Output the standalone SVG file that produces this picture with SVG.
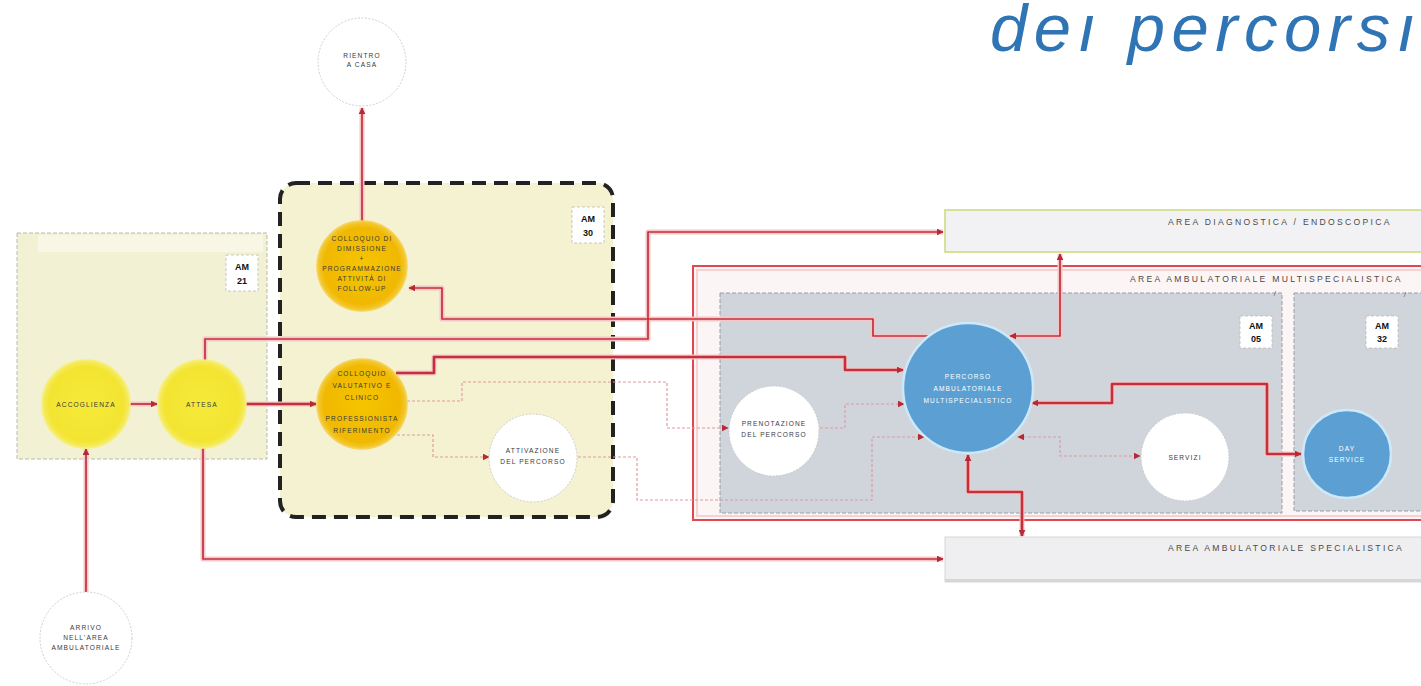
<svg xmlns="http://www.w3.org/2000/svg" xmlns:xlink="http://www.w3.org/1999/xlink" width="1421" height="686" viewBox="0 0 1421 686">
<style>
.lbl{font-family:"Liberation Sans",Arial,sans-serif;font-size:6.6px;letter-spacing:1.1px;fill:#3a3a3a;text-anchor:middle}
.lblw{font-family:"Liberation Sans",Arial,sans-serif;font-size:6.6px;letter-spacing:1.1px;fill:#ffffff;text-anchor:middle}
.area{font-family:"Liberation Sans",Arial,sans-serif;font-size:8.6px;letter-spacing:2.3px;fill:#4a4a4a}
.tag{font-family:"Liberation Sans",Arial,sans-serif;font-size:9px;font-weight:bold;fill:#111;text-anchor:middle}
.tagbox{fill:#ffffff;stroke:#bbbbbb;stroke-width:0.8;stroke-dasharray:3 2}
.cw{fill:#ffffff;stroke:#cfcfcf;stroke-width:1;stroke-dasharray:2 1.5}
.cy{fill:url(#gy);stroke:#f7ef7a;stroke-width:1.5}
.co{fill:url(#go);stroke:#f5d25a;stroke-width:1.5}
.cb{fill:#5b9fd3;stroke:#cde8f8;stroke-width:2.5}
.halo{fill:none;stroke:#f4c6c8;stroke-width:5;stroke-linejoin:round}
.r{fill:none;stroke:#c3303b;stroke-width:1.7;stroke-linejoin:round}
.rb{fill:none;stroke:#c3303b;stroke-width:2.6;stroke-linejoin:round}
.t{fill:none;stroke:#e09a9e;stroke-width:1.2;stroke-dasharray:3 2}
</style>
<defs>
<radialGradient id="gy" cx="50%" cy="50%" r="50%"><stop offset="0" stop-color="#f6ea3a"/><stop offset="0.85" stop-color="#f3e431"/><stop offset="1" stop-color="#f5ec6a"/></radialGradient>
<radialGradient id="go" cx="50%" cy="50%" r="50%"><stop offset="0" stop-color="#f6c500"/><stop offset="0.85" stop-color="#f0b800"/><stop offset="1" stop-color="#f4cc3a"/></radialGradient>
<marker id="ah" viewBox="0 0 10 10" refX="9" refY="5" markerWidth="7" markerHeight="7" markerUnits="userSpaceOnUse" orient="auto-start-reverse"><path d="M0,0 L10,5 L0,10 z" fill="#b52a35"/></marker>
</defs>

<rect width="1421" height="686" fill="#ffffff"/>

<text x="990" y="51" font-family="'Liberation Sans',Arial,sans-serif" font-style="italic" font-size="67" letter-spacing="6.5" fill="#2f74b5">deı percorsı</text>

<!-- areas -->
<g id="area-am21">
<rect x="17" y="233" width="250" height="226" fill="#f3f1d3" stroke="#b9b9b0" stroke-width="1" stroke-dasharray="4 2"/>
<rect x="38" y="235" width="225" height="17" fill="#f8f7e6"/>
<rect class="tagbox" x="226" y="255" width="32" height="36"/>
<text class="tag" x="242" y="270">AM</text><text class="tag" x="242" y="284">21</text>
</g>
<g id="area-multi">
<rect x="693" y="266" width="740" height="254" fill="#fcf5f5" stroke="#e0474f" stroke-width="2"/>
<rect x="697" y="270" width="740" height="246" fill="none" stroke="#f6d2d4" stroke-width="2"/>
<text class="area" x="1130" y="282">AREA AMBULATORIALE MULTISPECIALISTICA</text>
</g>
<g id="area-am05">
<rect x="720" y="293" width="562" height="220" fill="#d0d4db" stroke="#9a9ea4" stroke-width="1" stroke-dasharray="4 2"/>
<path d="M1274,296 l2,-5" stroke="#777" stroke-width="0.8"/>
<rect class="tagbox" x="1240" y="316" width="32" height="32"/>
<text class="tag" x="1256" y="329">AM</text><text class="tag" x="1256" y="342">05</text>
</g>
<g id="area-am32">
<rect x="1294" y="293" width="140" height="218" fill="#d0d4db" stroke="#9a9ea4" stroke-width="1" stroke-dasharray="4 2"/>
<path d="M1404,297 l2,-5" stroke="#777" stroke-width="0.8"/>
<rect class="tagbox" x="1366" y="316" width="32" height="32"/>
<text class="tag" x="1382" y="329">AM</text><text class="tag" x="1382" y="342">32</text>
</g>
<g id="area-diagnostica">
<rect x="945" y="210" width="490" height="42" fill="#f2f2f4" stroke="#cbd977" stroke-width="1.5"/>
<text class="area" x="1168" y="225">AREA DIAGNOSTICA / ENDOSCOPICA</text>
</g>
<g id="area-specialistica">
<rect x="945" y="537" width="490" height="45" fill="#efeff1" stroke="#d5d5d8" stroke-width="1"/>
<rect x="945" y="579" width="490" height="3" fill="#d6d6d9"/>
<text class="area" x="1168" y="551">AREA AMBULATORIALE SPECIALISTICA</text>
</g>
<g id="area-am30">
<rect x="280" y="183" width="333" height="334" rx="16" fill="#f5f2d1" stroke="#222222" stroke-width="4" stroke-dasharray="14 8"/>
<rect class="tagbox" x="572" y="207" width="32" height="36"/>
<text class="tag" x="588" y="222">AM</text><text class="tag" x="588" y="236">30</text>
</g>

<!-- connectors -->
<g id="connectors">
<g id="halos">
<path class="halo" d="M130,404 H157"/>
<path class="halo" d="M246,404 H316"/>
<path class="halo" d="M86,592 V449"/>
<path class="halo" d="M203,448 V559 H943"/>
<path class="halo" d="M205,360 V339 H648 V232 H943"/>
<path class="halo" d="M362,221 V108"/>
<path class="halo" d="M928,336 H873 V319 H442 V288 H409"/>
<path class="halo" d="M396,373 H434 V357 H845 V370 H903"/>
<path class="halo" d="M1060,254 V336 H1010"/>
<path class="halo" d="M1032,403 H1112 V384 H1267 V454 H1301"/>
<path class="halo" d="M968,455 V492 H1022 V536"/>
</g>
<path class="r" d="M130,404 H157" marker-end="url(#ah)"/>
<path class="rb" d="M246,404 H316" marker-end="url(#ah)"/>
<path class="r" d="M86,592 V449" marker-end="url(#ah)"/>
<path class="r" d="M203,448 V559 H943" marker-end="url(#ah)"/>
<path class="r" d="M205,360 V339 H648 V232 H943" marker-end="url(#ah)"/>
<path class="r" d="M362,221 V108" marker-end="url(#ah)"/>
<path class="r" d="M928,336 H873 V319 H442 V288 H409" marker-end="url(#ah)"/>
<path class="rb" d="M396,373 H434 V357 H845 V370 H903" marker-end="url(#ah)"/>
<path class="r" d="M1060,254 V336 H1010" marker-start="url(#ah)" marker-end="url(#ah)"/>
<path class="rb" d="M1032,403 H1112 V384 H1267 V454 H1301" marker-start="url(#ah)" marker-end="url(#ah)"/>
<path class="rb" d="M968,455 V492 H1022 V536" marker-start="url(#ah)" marker-end="url(#ah)"/>
<path class="t" d="M407,401 H462 V382 H667 V428 H728" marker-end="url(#ah)"/>
<path class="t" d="M397,435 H433 V457 H489" marker-end="url(#ah)"/>
<path class="t" d="M578,457 H637 V500 H872 V437 H924" marker-end="url(#ah)"/>
<path class="t" d="M820,428 H845 V404 H904" marker-end="url(#ah)"/>
<path class="t" d="M1018,437 H1060 V456 H1140" marker-start="url(#ah)" marker-end="url(#ah)"/>
</g>

<!-- nodes -->
<g id="n-rientro"><circle class="cw" cx="362" cy="62" r="44"/>
<text class="lbl" x="362" y="58">RIENTRO</text><text class="lbl" x="362" y="67">A CASA</text></g>

<g id="n-dimissione"><circle class="co" cx="362" cy="266" r="45"/>
<text class="lbl" x="362" y="241">COLLOQUIO DI</text><text class="lbl" x="362" y="251">DIMISSIONE</text><text class="lbl" x="362" y="261">+</text><text class="lbl" x="362" y="271">PROGRAMMAZIONE</text><text class="lbl" x="362" y="281">ATTIVITÀ DI</text><text class="lbl" x="362" y="291">FOLLOW-UP</text></g>

<g id="n-valutativo"><circle class="co" cx="362" cy="404" r="45"/>
<text class="lbl" x="362" y="376">COLLOQUIO</text><text class="lbl" x="362" y="388">VALUTATIVO E</text><text class="lbl" x="362" y="400">CLINICO</text><text class="lbl" x="362" y="421">PROFESSIONISTA</text><text class="lbl" x="362" y="433">RIFERIMENTO</text></g>

<g id="n-attivazione"><circle class="cw" cx="533" cy="458" r="44"/>
<text class="lbl" x="533" y="453">ATTIVAZIONE</text><text class="lbl" x="533" y="464">DEL PERCORSO</text></g>

<g id="n-accoglienza"><circle class="cy" cx="86" cy="404" r="44"/>
<text class="lbl" x="86" y="407">ACCOGLIENZA</text></g>

<g id="n-attesa"><circle class="cy" cx="202" cy="404" r="44"/>
<text class="lbl" x="202" y="407">ATTESA</text></g>

<g id="n-arrivo"><circle class="cw" cx="86" cy="638" r="46"/>
<text class="lbl" x="86" y="630">ARRIVO</text><text class="lbl" x="86" y="640">NELL'AREA</text><text class="lbl" x="86" y="650">AMBULATORIALE</text></g>

<g id="n-prenotazione"><circle class="cw" cx="774" cy="431" r="45"/>
<text class="lbl" x="774" y="426">PRENOTAZIONE</text><text class="lbl" x="774" y="437">DEL PERCORSO</text></g>

<g id="n-percorso"><circle class="cb" cx="968" cy="388" r="65"/>
<text class="lblw" x="968" y="379">PERCORSO</text><text class="lblw" x="968" y="391">AMBULATORIALE</text><text class="lblw" x="968" y="403">MULTISPECIALISTICO</text></g>

<g id="n-servizi"><circle class="cw" cx="1185" cy="457" r="44"/>
<text class="lbl" x="1185" y="460">SERVIZI</text></g>

<g id="n-dayservice"><circle class="cb" cx="1347" cy="454" r="44"/>
<text class="lblw" x="1347" y="451">DAY</text><text class="lblw" x="1347" y="462">SERVICE</text></g>
</svg>
